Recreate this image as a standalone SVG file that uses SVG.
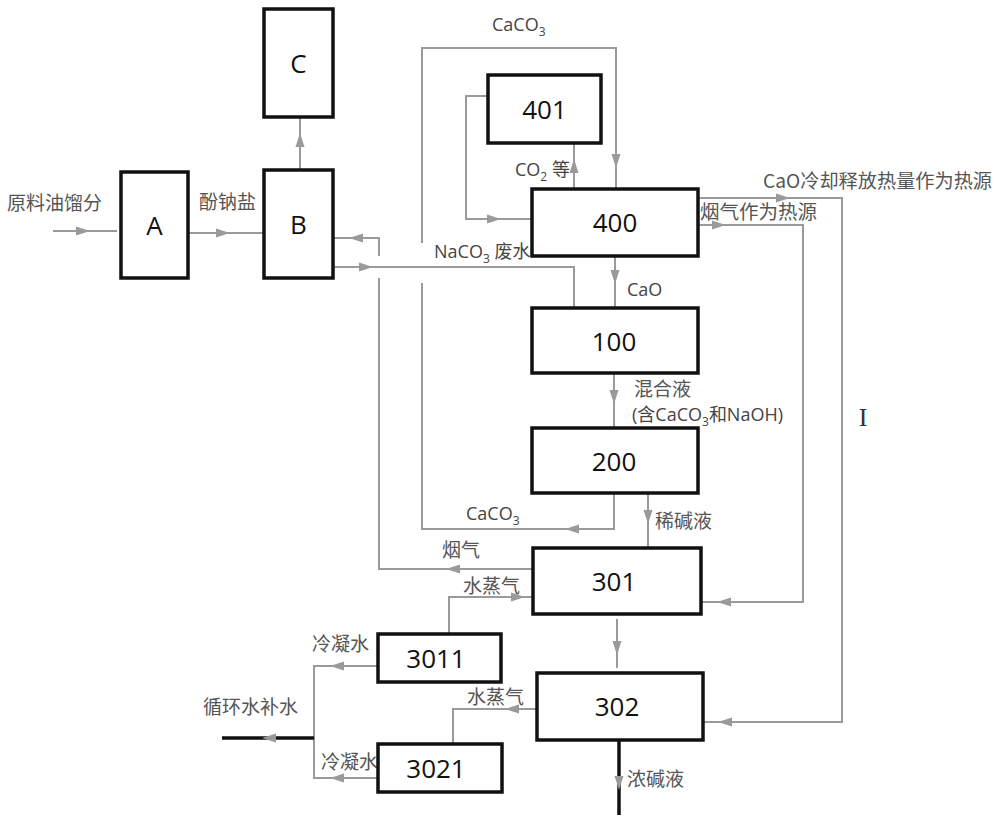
<svg xmlns="http://www.w3.org/2000/svg" xmlns:xlink="http://www.w3.org/1999/xlink" width="1000" height="823" viewBox="0 0 1000 823">
<style>
.box{fill:#fff;stroke:#111;stroke-width:3.5}
.bt{font-family:"Open Sans","Noto Sans",sans-serif;font-size:26px;fill:#111;text-anchor:middle;dominant-baseline:central}
.line{fill:none;stroke:#9a9a9a;stroke-width:2}
.blk{fill:none;stroke:#111;stroke-width:3.5}
.lb{font-family:"Noto Sans CJK SC","Noto Sans",sans-serif;font-size:19px;fill:#555}
.ch{font-family:"Open Sans","Noto Sans CJK SC",sans-serif;font-size:18px;fill:#444}
.sub{font-size:12px}
.ah{fill:#9a9a9a}
</style>
<defs>
<path id="ah" class="ah" d="M0,0 L-14,-4.5 L-14,4.5 Z"/>
</defs>
<rect width="1000" height="823" fill="#fff"/>
<g id="connectors">
<path class="line" d="M53,231 H117"/>
<use xlink:href="#ah" transform="translate(90,231)"/>
<path class="line" d="M188,233 H263"/>
<use xlink:href="#ah" transform="translate(230,233)"/>
<path class="line" d="M300,170 V118"/>
<use xlink:href="#ah" transform="translate(300,133) rotate(-90)"/>
<path class="line" d="M533,569 H379 V278 M379,256 V238 H334"/>
<use xlink:href="#ah" transform="translate(446,569) rotate(180)"/>
<use xlink:href="#ah" transform="translate(349,238) rotate(180)"/>
<path class="line" d="M334,267 H574 V308"/>
<use xlink:href="#ah" transform="translate(373,267)"/>
<path class="line" d="M614,493 V529 H422 V283 M422,243 V48 H616 V188"/>
<use xlink:href="#ah" transform="translate(565,529) rotate(180)"/>
<use xlink:href="#ah" transform="translate(616,168) rotate(90)"/>
<path class="line" d="M488,96 H466 V219 H532"/>
<use xlink:href="#ah" transform="translate(501,219)"/>
<path class="line" d="M574,188 V144"/>
<use xlink:href="#ah" transform="translate(574,159) rotate(-90)"/>
<path class="line" d="M615,256 V308"/>
<use xlink:href="#ah" transform="translate(615,284) rotate(90)"/>
<path class="line" d="M614,373 V428"/>
<use xlink:href="#ah" transform="translate(614,404) rotate(90)"/>
<path class="line" d="M648,493 V548"/>
<use xlink:href="#ah" transform="translate(648,524) rotate(90)"/>
<path class="line" d="M617,619 V668"/>
<use xlink:href="#ah" transform="translate(617,655) rotate(90)"/>
<path class="line" d="M698,225 H803 V602 H701"/>
<use xlink:href="#ah" transform="translate(726,225)"/>
<use xlink:href="#ah" transform="translate(717,602) rotate(180)"/>
<path class="line" d="M698,198 H842 V722 H703"/>
<use xlink:href="#ah" transform="translate(790,198)"/>
<use xlink:href="#ah" transform="translate(718,722) rotate(180)"/>
<path class="line" d="M533,597 H449 V634"/>
<use xlink:href="#ah" transform="translate(525,597)"/>
<path class="line" d="M537,709 H453 V744"/>
<use xlink:href="#ah" transform="translate(505,709) rotate(180)"/>
<path class="line" d="M378,666 H314 V778 H378"/>
<use xlink:href="#ah" transform="translate(330,666) rotate(180)"/>
<use xlink:href="#ah" transform="translate(330,778) rotate(180)"/>
<path class="blk" d="M222,738 H314"/>
<use xlink:href="#ah" transform="translate(262,738) rotate(180)"/>
<path class="blk" d="M619,740 V815"/>
<use xlink:href="#ah" transform="translate(619,790) rotate(90)"/>
</g>
<g id="labels">
<text class="lb" x="7" y="210">原料油馏分</text>
<text class="lb" x="199" y="209">酚钠盐</text>
<text class="ch" x="492" y="31">CaCO<tspan class="sub" dy="5">3</tspan></text>
<text class="ch" x="515" y="176" font-size="17">CO<tspan class="sub" dy="5">2</tspan><tspan dy="-5"> 等</tspan></text>
<text class="ch" x="434" y="258">NaCO<tspan class="sub" dy="5">3</tspan><tspan dy="-5"> 废水</tspan></text>
<text class="ch" x="627" y="296">CaO</text>
<text class="lb" x="763" y="188" textLength="229" lengthAdjust="spacingAndGlyphs">CaO冷却释放热量作为热源</text>
<text class="lb" x="700" y="219" style="font-size:19.5px">烟气作为热源</text>
<text class="lb" x="634" y="396">混合液</text>
<text class="ch" x="632" y="421" font-size="17">(含CaCO<tspan class="sub" dy="5">3</tspan><tspan dy="-5">和NaOH)</tspan></text>
<text class="ch" x="466" y="520">CaCO<tspan class="sub" dy="5">3</tspan></text>
<text class="lb" x="655" y="528">稀碱液</text>
<text class="lb" x="442" y="557">烟气</text>
<text class="lb" x="463" y="593">水蒸气</text>
<text class="lb" x="312" y="651">冷凝水</text>
<text class="lb" x="203" y="714">循环水补水</text>
<text class="lb" x="467" y="704">水蒸气</text>
<text class="lb" x="321" y="769">冷凝水</text>
<text class="lb" x="627" y="786">浓碱液</text>
<text x="863" y="426" font-family="Liberation Serif,serif" font-size="26" fill="#333" text-anchor="middle">I</text>
</g>
<g id="node-C"><rect class="box" x="264" y="9" width="69" height="108"/><text class="bt" x="298.5" y="63">C</text></g>
<g id="node-A"><rect class="box" x="121" y="172" width="67" height="106"/><text class="bt" x="154.5" y="225">A</text></g>
<g id="node-B"><rect class="box" x="264" y="170" width="69" height="108"/><text class="bt" x="298.5" y="224">B</text></g>
<g id="node-401"><rect class="box" x="488" y="75" width="113" height="68"/><text class="bt" x="544.5" y="109">401</text></g>
<g id="node-400"><rect class="box" x="532" y="189" width="166" height="67"/><text class="bt" x="615" y="222">400</text></g>
<g id="node-100"><rect class="box" x="532" y="308" width="166" height="65"/><text class="bt" x="614" y="341">100</text></g>
<g id="node-200"><rect class="box" x="532" y="428" width="166" height="65"/><text class="bt" x="614" y="461">200</text></g>
<g id="node-301"><rect class="box" x="533" y="548" width="168" height="66"/><text class="bt" x="614" y="581">301</text></g>
<g id="node-302"><rect class="box" x="537" y="673" width="166" height="67"/><text class="bt" x="617" y="706">302</text></g>
<g id="node-3011"><rect class="box" x="378" y="634" width="123" height="48"/><text class="bt" x="436" y="658">3011</text></g>
<g id="node-3021"><rect class="box" x="378" y="744" width="124" height="48"/><text class="bt" x="436" y="768">3021</text></g>
</svg>
